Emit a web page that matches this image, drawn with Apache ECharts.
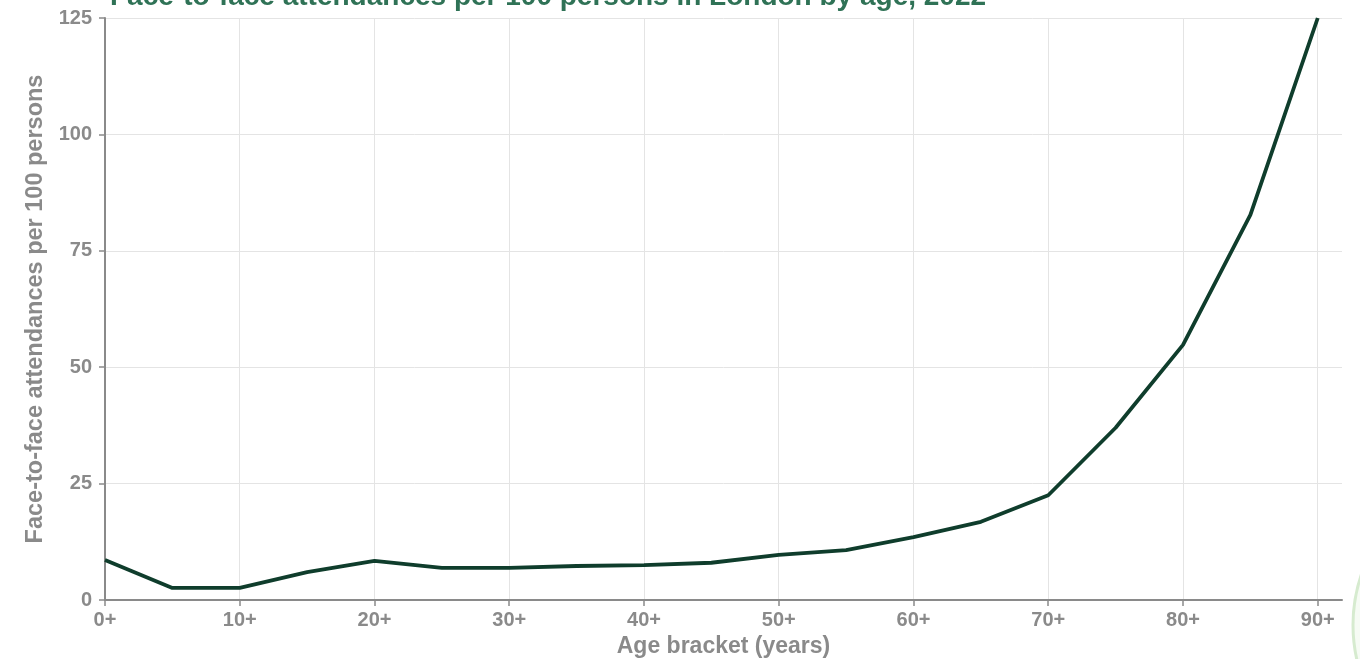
<!DOCTYPE html>
<html><head><meta charset="utf-8">
<script src="https://cdn.jsdelivr.net/npm/echarts@6/dist/echarts.min.js"></script>
<style>html,body{margin:0;padding:0;background:#fff}#c{width:1360px;height:659px}</style>
</head><body><div id="c"></div>
<script>
const titleText = 'Face-to-face attendances per 100 persons in London by age, 2022';
const ages = [0,5,10,15,20,25,30,35,40,45,50,55,60,65,70,75,80,85,90];
const attendances = [8.6,2.6,2.6,6.0,8.4,6.9,6.9,7.3,7.5,8.0,9.7,10.7,13.5,16.8,22.5,37,54.8,82.7,125];
const xTicks = [0,10,20,30,40,50,60,70,80,90];
const yTicks = [0,25,50,75,100,125];

const chart = echarts.init(document.getElementById('c'));
const gray = '#8a8a8a';
const grid = '#e4e4e4';
const font = 'Liberation Sans, Arial, sans-serif';
chart.setOption({
  animation:false,
  title:{text:titleText,left:105,top:-22,textStyle:{color:'#2f7256',fontSize:28,fontWeight:'bold',fontFamily:font}},
  grid:{left:105,right:18,top:18,bottom:59,outerBoundsMode:'none',containLabel:false},
  graphic:[{type:'circle',silent:true,shape:{cx:1510,cy:625,r:157},style:{fill:'#f6fbf4',stroke:'#d6ebcf',lineWidth:3}}],
  xAxis:{type:'value',min:0,max:91.8,interval:10,
    name:'Age bracket (years)',nameLocation:'middle',nameGap:35,
    nameTextStyle:{color:gray,fontSize:23,fontWeight:'bold',fontFamily:font},
    axisLine:{lineStyle:{color:gray,width:2}},
    axisTick:{show:true,length:6,lineStyle:{color:gray,width:1.5},customValues:xTicks},
    axisLabel:{color:gray,fontSize:20,fontWeight:'bold',fontFamily:font,margin:10,customValues:xTicks,formatter:v=>v+'+'},
    splitLine:{show:true,lineStyle:{color:[grid,grid,grid,grid,grid,grid,grid,grid,grid,grid,'rgba(0,0,0,0)'],width:1}}
  },
  yAxis:{type:'value',min:0,max:125,interval:25,
    name:'Face-to-face attendances per 100 persons',nameLocation:'middle',nameGap:57,
    nameTextStyle:{color:gray,fontSize:23.5,fontWeight:'bold',fontFamily:font},
    axisLine:{show:true,lineStyle:{color:gray,width:2}},
    axisTick:{show:true,length:6,lineStyle:{color:gray,width:1.5}},
    axisLabel:{color:gray,fontSize:20,fontWeight:'bold',fontFamily:font,margin:13,customValues:yTicks},
    splitLine:{show:true,lineStyle:{color:grid,width:1}}
  },
  series:[{type:'line',data:ages.map((a,i)=>[a,attendances[i]]),symbol:'none',
    lineStyle:{color:'#0f3d2c',width:3.8},clip:false}]
});
</script></body></html>
